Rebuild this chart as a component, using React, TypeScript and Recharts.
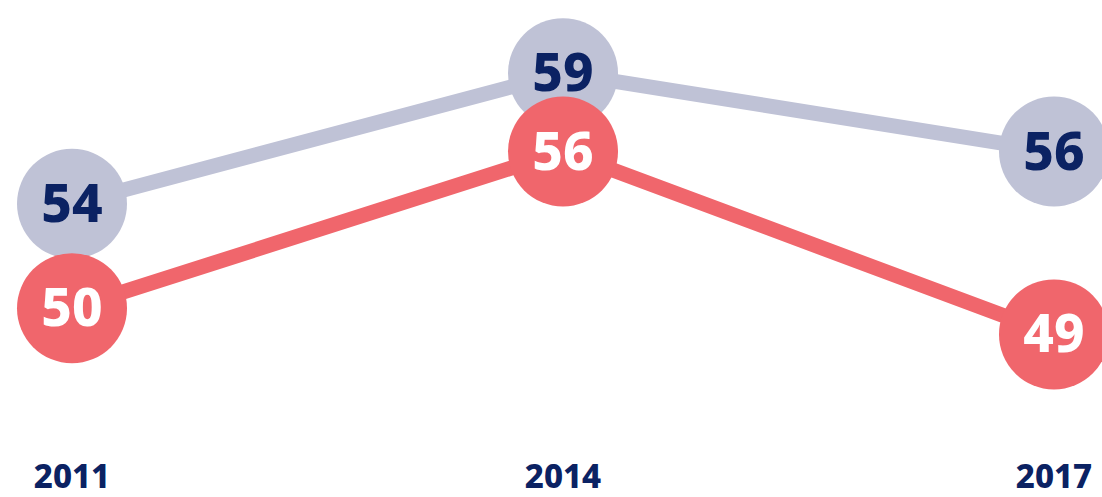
import React from 'react'
import { Line, LineChart, XAxis, YAxis } from 'recharts'

const years = ['2011', '2014', '2017']
const greySeries = [54, 59, 56]
const redSeries = [50, 56, 49]

const data = years.map((year, i) => ({ year, grey: greySeries[i], red: redSeries[i] }))

const NAVY = '#0B2263'
const GREY = '#BFC2D6'
const RED = '#F0666C'
const FONT = '"Noto Sans", sans-serif'

const makeDot = (fill: string, textColor: string, key: 'grey' | 'red') => (props: any) => {
  const { cx, cy, index } = props
  if (cx == null || cy == null) return <g key={`${key}-${index}`} />
  return (
    <g key={`${key}-${index}`}>
      <circle cx={cx} cy={cy} r={55} fill={fill} />
      <text x={cx} y={cy} dy={18} textAnchor='middle' fill={textColor}
        style={{ fontFamily: FONT, fontWeight: 800, fontSize: 53 }}>
        {props.payload[key]}
      </text>
    </g>
  )
}

const YearTick = (props: any) => {
  const { x, y, payload } = props
  return (
    <text x={x} y={y} dy={23} textAnchor='middle' fill={NAVY}
      style={{ fontFamily: FONT, fontWeight: 800, fontSize: 33 }}>
      {payload.value}
    </text>
  )
}

const App = () => {
  return (
    <div style={{ position: 'absolute', left: 0, top: 0, width: 1102, height: 497, overflow: 'hidden', background: '#fff' }}>
      <LineChart width={1130} height={497} data={data} margin={{ top: 47, right: 0, left: 0, bottom: 0 }}>
        <XAxis dataKey='year' axisLine={false} tickLine={false} tickSize={0} tickMargin={0}
          height={32} padding={{ left: 72, right: 76 }} tick={<YearTick />} interval={0} />
        <YAxis hide domain={[44, 60]} />
        <Line dataKey='grey' stroke={GREY} strokeWidth={15} isAnimationActive={false}
          dot={makeDot(GREY, NAVY, 'grey')} activeDot={false} />
        <Line dataKey='red' stroke={RED} strokeWidth={15} isAnimationActive={false}
          dot={makeDot(RED, '#FFFFFF', 'red')} activeDot={false} />
      </LineChart>
    </div>
  )
}

export default App
